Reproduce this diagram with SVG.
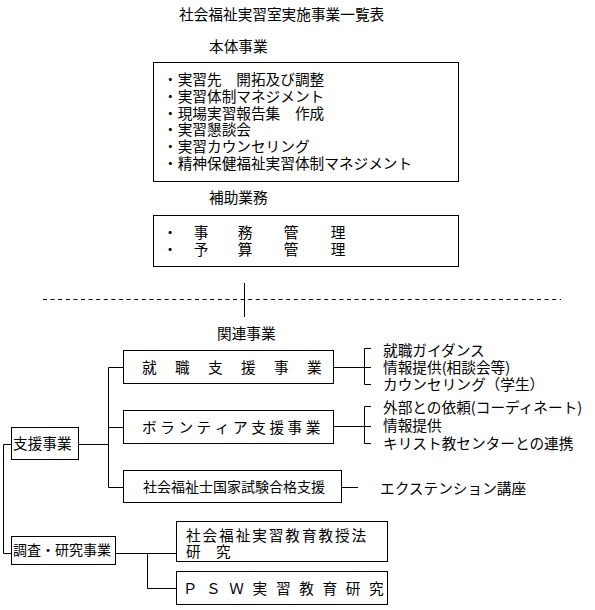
<svg xmlns="http://www.w3.org/2000/svg" width="595" height="610" viewBox="0 0 595 610">
<style>
text{font-family:"Noto Sans CJK JP","Noto Sans CJK SC",sans-serif;font-size:14.67px;fill:#000}
.s14{font-size:14px}
.box{fill:#fff;stroke:#000;stroke-width:1}
.ln{fill:none;stroke:#000;stroke-width:1}
.dash{fill:none;stroke:#000;stroke-width:1;stroke-dasharray:4 3.6}
</style>
<rect width="595" height="610" fill="#fff"/>
<g id="title">
<text x="179" y="20">社会福祉実習室実施事業一覧表</text>
</g>
<g id="honntai-label"><text x="209" y="51.5">本体事業</text></g>
<g id="honntai">
<rect class="box" x="153.5" y="62.5" width="305" height="119"/>
<text><tspan x="163" y="85">・実習先　開拓及び調整</tspan><tspan x="163" y="101.8">・実習体制マネジメント</tspan><tspan x="163" y="118.6">・現場実習報告集　作成</tspan><tspan x="163" y="135.4">・実習懇談会</tspan><tspan x="163" y="152.2">・実習カウンセリング</tspan><tspan x="163" y="169">・精神保健福祉実習体制マネジメント</tspan></text>
</g>
<g id="hojo-label"><text x="209" y="202.5">補助業務</text></g>
<g id="hojo">
<rect class="box" x="153.5" y="215.5" width="305" height="51"/>
<text><tspan x="162.7 193.7 237.7 283.7 330.7" y="237.5">・事務管理</tspan><tspan x="162.7 193.7 237.7 283.7 330.7" y="254.5">・予算管理</tspan></text>
</g>
<g id="kanren-label"><text x="217" y="338.5">関連事業</text></g>
<g id="shien"><rect class="box" x="11.5" y="427.5" width="67" height="32"/><text x="13" y="449">支援事業</text></g>
<g id="chosa"><rect class="box" x="11.5" y="536.5" width="104" height="28"/><text class="s14" x="13" y="555">調査・研究事業</text></g>
<g id="shushoku"><rect class="box" x="123.5" y="350.5" width="210" height="33"/><text x="142 175 208 241 274 307" y="372.5">就職支援事業</text></g>
<g id="volunteer"><rect class="box" x="123.5" y="410.5" width="210" height="33"/><text x="142 160.2 178.4 196.6 214.8 233 251.2 269.4 287.6 305.8" y="432.5">ボランティア支援事業</text></g>
<g id="kokka"><rect class="box" x="123.5" y="470.5" width="218" height="32"/><text class="s14" x="143" y="492">社会福祉士国家試験合格支援</text></g>
<g id="kyojuho"><rect class="box" x="176.5" y="521.5" width="211" height="40"/><text><tspan x="186" y="540.5" letter-spacing="1.9">社会福祉実習教育教授法</tspan><tspan x="186 216" y="556.5">研究</tspan></text></g>
<g id="psw"><rect class="box" x="176.5" y="571.5" width="211" height="33"/><text x="182.7 206 229.3 252.6 275.9 299.2 322.5 345.8 369.1" y="593.5">ＰＳＷ実習教育研究</text></g>
<g id="list-shushoku">
<text><tspan x="383" y="355.5">就職ガイダンス</tspan><tspan x="383" y="372.5">情報提供(相談会等)</tspan><tspan x="383" y="389.5">カウンセリング（学生）</tspan></text>
</g>
<g id="list-volunteer">
<text><tspan x="383" y="412.5">外部との依頼(コーディネート)</tspan><tspan x="383" y="430.5">情報提供</tspan><tspan x="383" y="448.5">キリスト教センターとの連携</tspan></text>
</g>
<g id="extension"><text x="380" y="493.5">エクステンション講座</text></g>
<g id="connectors">
<line class="dash" x1="43" y1="299.5" x2="561" y2="299.5"/>
<line class="ln" x1="244.5" y1="283" x2="244.5" y2="317"/>
<path class="ln" d="M78.5 444.5H108.5M108.5 367.5V487.5M108.5 367.5H123.5M108.5 427.5H123.5M108.5 487.5H123.5"/>
<path class="ln" d="M11.5 444.5H3.5V553.5H11.5"/>
<path class="ln" d="M115.5 553.5H176.5M147.5 553.5V588.5H176.5"/>
<path class="ln" d="M333.5 367.5H371M371 348.5H364.5V384.5H371"/>
<path class="ln" d="M333.5 426.5H371M371 406.5H364.5V443.5H371"/>
<path class="ln" d="M341.5 487.5H358"/>
</g>
</svg>
